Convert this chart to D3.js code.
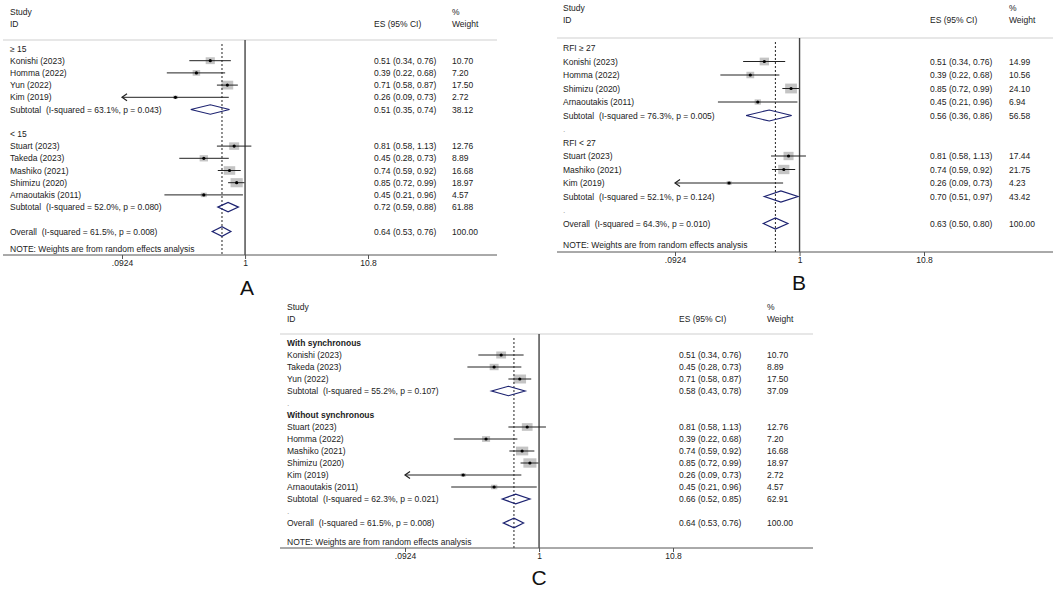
<!DOCTYPE html>
<html><head><meta charset="utf-8">
<script src="https://cdn.jsdelivr.net/npm/d3@7"></script>
<style>
body{margin:0;background:#fff}
text{font-family:"Liberation Sans",Arial,sans-serif;white-space:pre}
</style>
</head><body>
<svg id="chart" width="1056" height="590"></svg>
<script>
// ---------- shared axis ----------
const tickValues = [0.0924, 1, 10.8];
const tickLabels = [".0924", "1", "10.8"];
const noteText = "NOTE: Weights are from random effects analysis";

// ---------- Panel A ----------
const labelsA = ["≥ 15","Konishi (2023)","Homma (2022)","Yun (2022)","Kim (2019)",
  "Subtotal  (I-squared = 63.1%, p = 0.043)","","< 15","Stuart (2023)","Takeda (2023)",
  "Mashiko (2021)","Shimizu (2020)","Arnaoutakis (2011)",
  "Subtotal  (I-squared = 52.0%, p = 0.080)","","Overall  (I-squared = 61.5%, p = 0.008)"];
const typesA = ["group","study","study","study","study","sub","blank","group","study","study",
  "study","study","study","sub","blank","overall"];
const esA = [null,0.51,0.39,0.71,0.26,0.51,null,null,0.81,0.45,0.74,0.85,0.45,0.72,null,0.64];
const loA = [null,0.34,0.22,0.58,0.09,0.35,null,null,0.58,0.28,0.59,0.72,0.21,0.59,null,0.53];
const hiA = [null,0.76,0.68,0.87,0.73,0.74,null,null,1.13,0.73,0.92,0.99,0.96,0.88,null,0.76];
const weightA = [null,10.70,7.20,17.50,2.72,38.12,null,null,12.76,8.89,16.68,18.97,4.57,61.88,null,100.00];

// ---------- Panel B ----------
const labelsB = ["RFI ≥ 27","Konishi (2023)","Homma (2022)","Shimizu (2020)","Arnaoutakis (2011)",
  "Subtotal  (I-squared = 76.3%, p = 0.005)",".","RFI < 27","Stuart (2023)","Mashiko (2021)",
  "Kim (2019)","Subtotal  (I-squared = 52.1%, p = 0.124)",".",
  "Overall  (I-squared = 64.3%, p = 0.010)"];
const typesB = ["group","study","study","study","study","sub","sep","group","study","study",
  "study","sub","sep","overall"];
const esB = [null,0.51,0.39,0.85,0.45,0.56,null,null,0.81,0.74,0.26,0.70,null,0.63];
const loB = [null,0.34,0.22,0.72,0.21,0.36,null,null,0.58,0.59,0.09,0.51,null,0.50];
const hiB = [null,0.76,0.68,0.99,0.96,0.86,null,null,1.13,0.92,0.73,0.97,null,0.80];
const weightB = [null,14.99,10.56,24.10,6.94,56.58,null,null,17.44,21.75,4.23,43.42,null,100.00];

// ---------- Panel C ----------
const labelsC = ["With synchronous","Konishi (2023)","Takeda (2023)","Yun (2022)",
  "Subtotal  (I-squared = 55.2%, p = 0.107)",".","Without synchronous","Stuart (2023)",
  "Homma (2022)","Mashiko (2021)","Shimizu (2020)","Kim (2019)","Arnaoutakis (2011)",
  "Subtotal  (I-squared = 62.3%, p = 0.021)",".","Overall  (I-squared = 61.5%, p = 0.008)"];
const typesC = ["bgroup","study","study","study","sub","sep","bgroup","study","study","study",
  "study","study","study","sub","sep","overall"];
const esC = [null,0.51,0.45,0.71,0.58,null,null,0.81,0.39,0.74,0.85,0.26,0.45,0.66,null,0.64];
const loC = [null,0.34,0.28,0.58,0.43,null,null,0.58,0.22,0.59,0.72,0.09,0.21,0.52,null,0.53];
const hiC = [null,0.76,0.73,0.87,0.78,null,null,1.13,0.68,0.92,0.99,0.73,0.96,0.85,null,0.76];
const weightC = [null,10.70,8.89,17.50,37.09,null,null,12.76,7.20,16.68,18.97,2.72,4.57,62.91,null,100.00];

// ---------- layout configs ----------
const cfgA = {letter:"A", lineX0:3, lineX1:497, xMin:122, xMax:368, textX:10, esX:374, wX:452,
  studyY:12, idY:24, hdrY:40, row0:48.5, rowH:12.2, axisY:255, noteY:249, letterX:247, letterY:287,
  kw:2.8, kh:2.1, dh:9.5};
const cfgB = {letter:"B", lineX0:557, lineX1:1053, xMin:675, xMax:924, textX:563, esX:930, wX:1009,
  studyY:8, idY:20, hdrY:38, row0:48, rowH:13.5, axisY:252, noteY:245, letterX:799, letterY:282,
  kw:2.4, kh:2.0, dh:11};
const cfgC = {letter:"C", lineX0:280, lineX1:813, xMin:405, xMax:673, textX:287, esX:679, wX:767,
  studyY:307, idY:319, hdrY:334, row0:343, rowH:12, axisY:548, noteY:542, letterX:539, letterY:577,
  kw:3.0, kh:2.15, dh:9.5};

const svg = d3.select("#chart");
const FS = 8.5, TXT = "#222";

function drawPanel(d, c){
  const g = svg.append("g");
  const x = d3.scaleLog().domain([tickValues[0], tickValues[tickValues.length-1]]).range([c.xMin, c.xMax]);
  const y = i => c.row0 + i*c.rowH;
  const txt = (px, py, s, bold) => g.append("text").attr("x",px).attr("y",py)
    .attr("dominant-baseline","central").attr("font-size",FS).attr("fill",TXT)
    .attr("font-weight", bold ? "bold" : "normal").text(s);

  // header
  txt(c.textX, c.studyY, "Study"); txt(c.textX, c.idY, "ID");
  txt(c.esX, c.idY, "ES (95% CI)");
  txt(c.wX, c.studyY, "%"); txt(c.wX, c.idY, "Weight");
  g.append("line").attr("x1",c.lineX0).attr("x2",c.lineX1).attr("y1",c.hdrY).attr("y2",c.hdrY)
    .attr("stroke","#cfcfcf").attr("stroke-width",1);

  const n = d.labels.length;
  const overallIdx = d.types.indexOf("overall");

  // line of no effect
  g.append("line").attr("x1",x(1)).attr("x2",x(1)).attr("y1",c.hdrY).attr("y2",c.axisY)
    .attr("stroke","#444").attr("stroke-width",1.4);
  // boxes
  for(let i=0;i<n;i++){
    if(d.types[i]!=="study") continue;
    const s = Math.sqrt(d.weight[i]);
    const w = c.kw*s, h = c.kh*s;
    g.append("rect").attr("x",x(d.es[i])-w/2).attr("y",y(i)-h/2).attr("width",w).attr("height",h)
      .attr("fill","#c4c4c4");
  }
  // overall dashed line
  g.append("line").attr("x1",x(d.es[overallIdx])).attr("x2",x(d.es[overallIdx]))
    .attr("y1",c.hdrY+4).attr("y2",c.axisY)
    .attr("stroke","#222").attr("stroke-width",1).attr("stroke-dasharray","2,2");

  for(let i=0;i<n;i++){
    const t = d.types[i];
    if(t==="group") txt(c.textX, y(i), d.labels[i]);
    else if(t==="bgroup") txt(c.textX, y(i), d.labels[i], true);
    else if(t==="sep") txt(c.textX, y(i), d.labels[i]).attr("fill","#aaa");
    else if(t==="study" || t==="sub" || t==="overall"){
      txt(c.textX, y(i), d.labels[i]);
      txt(c.esX, y(i), `${d.es[i].toFixed(2)} (${d.lo[i].toFixed(2)}, ${d.hi[i].toFixed(2)})`);
      txt(c.wX, y(i), d.weight[i].toFixed(2));
      if(t==="study"){
        const clipped = d.lo[i] < x.domain()[0];
        const xl = x(Math.max(d.lo[i], x.domain()[0]));
        g.append("line").attr("x1",xl).attr("x2",x(d.hi[i])).attr("y1",y(i)).attr("y2",y(i))
          .attr("stroke","#222").attr("stroke-width",1);
        if(clipped){
          g.append("path").attr("d",`M${xl+5},${y(i)-3.5} L${xl},${y(i)} L${xl+5},${y(i)+3.5}`)
            .attr("fill","none").attr("stroke","#222").attr("stroke-width",1.2);
        }
        g.append("circle").attr("cx",x(d.es[i])).attr("cy",y(i)).attr("r",1.6).attr("fill","#000");
      } else {
        const yy = y(i), hh = c.dh/2;
        g.append("path")
          .attr("d",`M${x(d.lo[i])},${yy} L${x(d.es[i])},${yy-hh} L${x(d.hi[i])},${yy} L${x(d.es[i])},${yy+hh} Z`)
          .attr("fill","none").attr("stroke","#1c2270").attr("stroke-width",1.2);
      }
    }
  }

  // note
  txt(c.textX, c.noteY, noteText);

  // axis
  const ax = g.append("g").attr("transform",`translate(0,${c.axisY})`)
    .call(d3.axisBottom(x).tickValues(tickValues).tickFormat((v,i)=>tickLabels[i]).tickSize(4).tickPadding(1));
  ax.select(".domain").remove();
  ax.selectAll(".tick line").attr("stroke","#555");
  ax.selectAll(".tick text").attr("font-size",FS).attr("fill",TXT)
    .attr("font-family","Liberation Sans, Arial, sans-serif");
  g.append("line").attr("x1",c.lineX0).attr("x2",c.lineX1).attr("y1",c.axisY).attr("y2",c.axisY)
    .attr("stroke","#555").attr("stroke-width",1);

  // panel letter
  g.append("text").attr("x",c.letterX).attr("y",c.letterY).attr("text-anchor","middle")
    .attr("dominant-baseline","central").attr("font-size",21).attr("fill","#111").text(c.letter);
}

drawPanel({labels:labelsA, types:typesA, es:esA, lo:loA, hi:hiA, weight:weightA}, cfgA);
drawPanel({labels:labelsB, types:typesB, es:esB, lo:loB, hi:hiB, weight:weightB}, cfgB);
drawPanel({labels:labelsC, types:typesC, es:esC, lo:loC, hi:hiC, weight:weightC}, cfgC);
</script>
</body></html>
